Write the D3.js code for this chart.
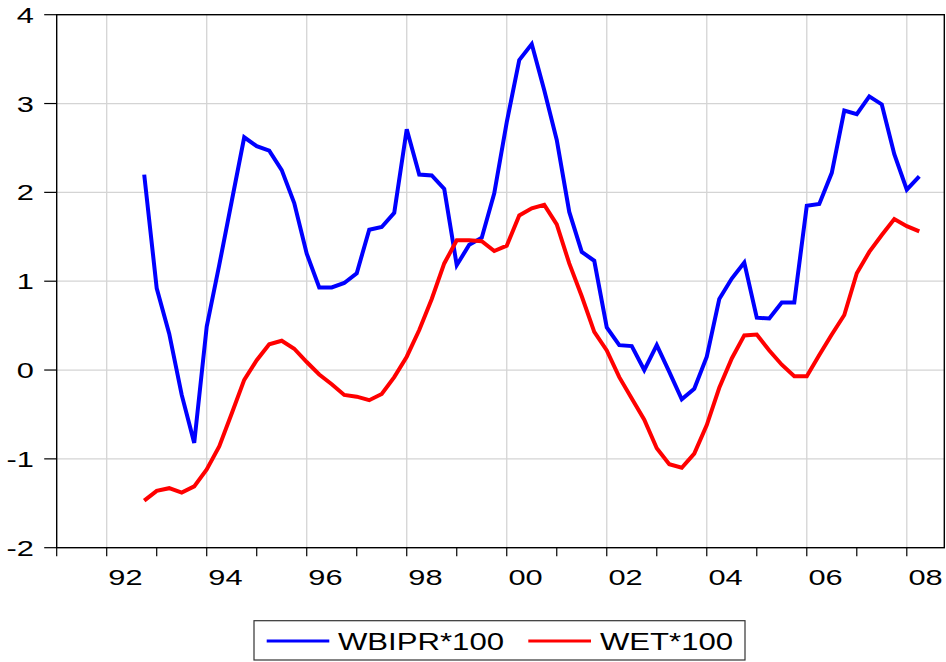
<!DOCTYPE html>
<html><head><meta charset="utf-8">
<script src="https://cdn.jsdelivr.net/npm/d3@7"></script>
<style>html,body{margin:0;padding:0;background:#fff}svg{display:block}text{font-family:"Liberation Sans",Arial,sans-serif;fill:#000}</style>
</head><body>
<script>
// ---- data ----
const startYear = 1992, startQuarter = 4;     // first observation 1992Q4
const axisStartYear = 1991, axisQuarters = 71; // axis 1991Q1 .. 2008Q4
const yTicks = [-2, -1, 0, 1, 2, 3, 4];
const xLabelYears = [1992, 1994, 1996, 1998, 2000, 2002, 2004, 2006, 2008];
const xLabels = ["92", "94", "96", "98", "00", "02", "04", "06", "08"];
const seriesNames = ["WBIPR*100", "WET*100"];
const seriesColors = ["#0000ff", "#ff0000"];
const wbipr = [2.20, 0.92, 0.41, -0.28, -0.82, 0.49, 1.18, 1.90, 2.62, 2.52,
  2.47, 2.25, 1.88, 1.31, 0.93, 0.93, 0.98, 1.09, 1.58, 1.61,
  1.77, 2.71, 2.20, 2.19, 2.04, 1.18, 1.41, 1.49, 1.99, 2.79,
  3.49, 3.67, 3.15, 2.59, 1.78, 1.33, 1.23, 0.48, 0.28, 0.27,
  0.00, 0.28, -0.02, -0.33, -0.21, 0.15, 0.80, 1.03, 1.21, 0.59,
  0.58, 0.76, 0.76, 1.85, 1.87, 2.22, 2.92, 2.88, 3.08, 2.99,
  2.43, 2.03, 2.18];
const wet = [-1.47, -1.36, -1.33, -1.38, -1.31, -1.12, -0.86, -0.49, -0.11, 0.11,
  0.29, 0.33, 0.24, 0.09, -0.05, -0.16, -0.28, -0.30, -0.34, -0.27,
  -0.08, 0.15, 0.45, 0.80, 1.20, 1.46, 1.46, 1.45, 1.34, 1.40,
  1.74, 1.82, 1.86, 1.64, 1.20, 0.83, 0.43, 0.22, -0.08, -0.32,
  -0.56, -0.88, -1.06, -1.10, -0.94, -0.62, -0.20, 0.13, 0.39, 0.40,
  0.22, 0.06, -0.07, -0.07, 0.17, 0.40, 0.62, 1.09, 1.33, 1.52,
  1.70, 1.62, 1.56];

// ---- layout ----
const W = 946, H = 662;
const L = 56.7, R = 944.3, T = 14.7, B = 547.7;
const svg = d3.select("body").append("svg").attr("width", W).attr("height", H);

const x = d3.scaleLinear().domain([0, axisQuarters]).range([L, R]);
const y = d3.scaleLinear().domain([-2, 4]).range([B, T]);
const qIndex = (yr, q) => (yr - axisStartYear) * 4 + (q - 1);
const firstIdx = qIndex(startYear, startQuarter);

// grid
const g = svg.append("g");
g.selectAll(".hg").data(yTicks.filter(v => v > -2 && v < 4)).join("line")
  .attr("x1", L).attr("x2", R).attr("y1", d => y(d)).attr("y2", d => y(d))
  .attr("stroke", "#d4d4d4").attr("stroke-width", 1.3);
g.selectAll(".vg").data(xLabelYears).join("line")
  .attr("x1", d => x(qIndex(d, 1))).attr("x2", d => x(qIndex(d, 1)))
  .attr("y1", T).attr("y2", B)
  .attr("stroke", "#d4d4d4").attr("stroke-width", 1.3);

// series
const line = d3.line().x((d, i) => x(firstIdx + i)).y(d => y(d));
[wbipr, wet].forEach((s, k) => {
  svg.append("path").datum(s).attr("d", line)
    .attr("fill", "none").attr("stroke", seriesColors[k])
    .attr("stroke-width", 4).attr("stroke-linejoin", "miter").attr("stroke-linecap", "butt");
});

// frame
svg.append("rect").attr("x", L).attr("y", T).attr("width", R - L).attr("height", B - T)
  .attr("fill", "none").attr("stroke", "#000").attr("stroke-width", 1.4);

// y axis ticks & labels
svg.selectAll(".yt").data(yTicks).join("line")
  .attr("x1", L - 12.5).attr("x2", L).attr("y1", d => y(d)).attr("y2", d => y(d))
  .attr("stroke", "#000").attr("stroke-width", 1.2);
svg.selectAll(".yl").data(yTicks).join("text")
  .attr("transform", d => `translate(34,${y(d) + 8}) scale(1.4,1)`)
  .attr("text-anchor", "end").attr("font-size", 22).text(d => d);

// x axis ticks (every year) & labels
const yearTicks = d3.range(axisStartYear, 2009);
svg.selectAll(".xt").data(yearTicks).join("line")
  .attr("x1", d => x(qIndex(d, 1))).attr("x2", d => x(qIndex(d, 1)))
  .attr("y1", B).attr("y2", B + 8.5)
  .attr("stroke", "#000").attr("stroke-width", 1.2);
svg.selectAll(".xl").data(xLabelYears).join("text")
  .attr("transform", (d, i) => `translate(${x(qIndex(d, 1) + 1.5)},585) scale(1.4,1)`)
  .attr("text-anchor", "middle").attr("font-size", 22).text((d, i) => xLabels[i]);

// legend
const lg = svg.append("g");
lg.append("rect").attr("x", 254).attr("y", 620.7).attr("width", 491).attr("height", 39.3)
  .attr("fill", "#fff").attr("stroke", "#333").attr("stroke-width", 1.2);
const legX = [[266.7, 329.3, 338], [528.3, 591, 600]];
seriesNames.forEach((n, k) => {
  lg.append("line").attr("x1", legX[k][0]).attr("x2", legX[k][1]).attr("y1", 641).attr("y2", 641)
    .attr("stroke", seriesColors[k]).attr("stroke-width", 3.2);
  lg.append("text").attr("transform", `translate(${legX[k][2]},650) scale(1.27,1)`)
    .attr("font-size", 24.5).text(n);
});
</script>
</body></html>
